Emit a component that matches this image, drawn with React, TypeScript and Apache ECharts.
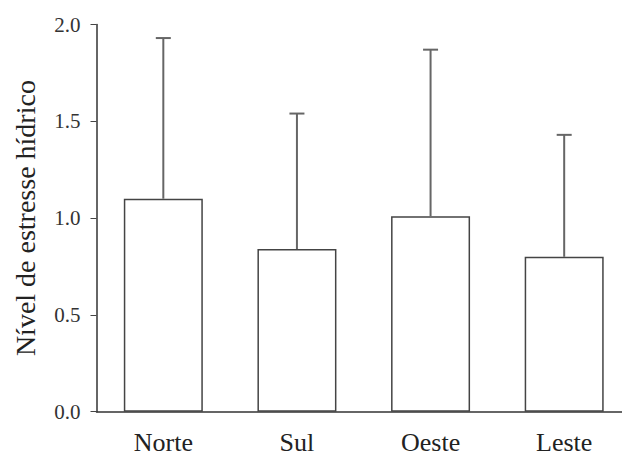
import React, { useEffect, useRef } from "react";
import * as echarts from "echarts";

const categories = ["Norte", "Sul", "Oeste", "Leste"];
const means = [1.1, 0.84, 1.01, 0.8];
const upper = [1.93, 1.54, 1.87, 1.43];
const yTicks = [0, 0.5, 1.0, 1.5, 2.0];

export default function App() {
  const ref = useRef<HTMLDivElement>(null);
  useEffect(() => {
    if (!ref.current) return;
    const chart = echarts.init(ref.current, undefined, { renderer: "svg" });
    const font = "Liberation Serif";
    chart.setOption({
      animation: false,
      backgroundColor: "#ffffff",
      textStyle: { fontFamily: font },
      grid: { left: 96.5, right: -9, top: 24.5, bottom: 47.3, outerBoundsMode: "none", containLabel: false },
      xAxis: {
        type: "category",
        data: categories,
        axisLine: { lineStyle: { color: "#333", width: 1.5 } },
        axisTick: { alignWithLabel: true, length: 4, lineStyle: { color: "#555" } },
        axisLabel: { color: "#222", fontFamily: font, fontSize: 26, margin: 18 },
      },
      yAxis: {
        type: "value",
        min: yTicks[0],
        max: yTicks[yTicks.length - 1],
        interval: 0.5,
        name: "Nível de estresse hídrico",
        nameLocation: "middle",
        nameGap: 57,
        nameTextStyle: { color: "#222", fontFamily: font, fontSize: 28 },
        axisLine: { show: true, lineStyle: { color: "#333", width: 1.5 } },
        axisTick: { show: true, length: 6, lineStyle: { color: "#444" } },
        splitLine: { show: false },
        axisLabel: {
          color: "#333",
          fontFamily: font,
          fontSize: 21,
          margin: 16,
          formatter: (v: number) => v.toFixed(1),
        },
      },
      series: [
        {
          type: "bar",
          data: means,
          barWidth: 79,
          itemStyle: { color: "#ffffff", borderColor: "#444", borderWidth: 1.5 },
          z: 2,
        },
        {
          type: "custom",
          data: categories.map((_, i) => [i, means[i], upper[i]]),
          z: 3,
          renderItem: (params: any, api: any) => {
            const x = api.value(0);
            const lo = api.coord([x, api.value(1)]);
            const hi = api.coord([x, api.value(2)]);
            const half = 7.5;
            const style = { stroke: "#666", lineWidth: 2 };
            return {
              type: "group",
              children: [
                { type: "line", shape: { x1: lo[0], y1: lo[1], x2: hi[0], y2: hi[1] }, style },
                { type: "line", shape: { x1: hi[0] - half, y1: hi[1], x2: hi[0] + half, y2: hi[1] }, style },
              ],
            };
          },
        },
      ],
    });
    return () => chart.dispose();
  }, []);
  return <div ref={ref} style={{ width: 622, height: 459, position: "absolute", left: 0, top: 0 }} />;
}
